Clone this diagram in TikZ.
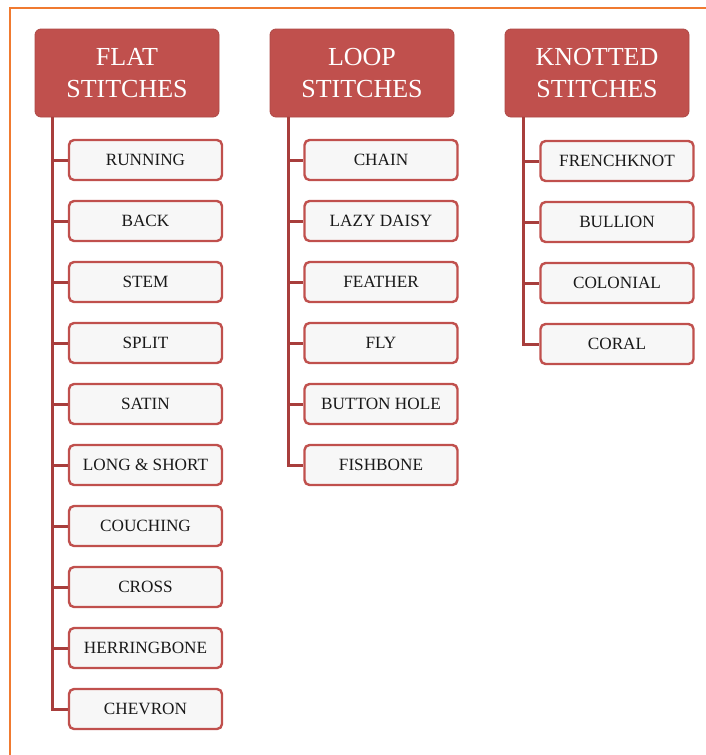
\documentclass[tikz,border=0pt]{standalone}
\usepackage{fontspec}
\setmainfont{Liberation Serif}
\usetikzlibrary{positioning}

\definecolor{headred}{RGB}{192,80,77}
\definecolor{trunkred}{RGB}{168,62,60}
\definecolor{frameorange}{RGB}{240,122,48}

\begin{document}
\begin{tikzpicture}[x=0.5pt, y=-0.5pt, node distance=9.3pt,
  head/.style={fill=headred, draw=headred!90!black, rounded corners=3pt,
               minimum width=92pt, minimum height=44pt, align=center,
               text=white, font=\fontsize{13}{16}\selectfont},
  item/.style={draw=headred, fill=black!3, line width=1.2pt, rounded corners=2.5pt,
               minimum width=76.5pt, minimum height=20pt, inner sep=1pt,
               text=black!90, font=\fontsize{8.6}{10}\selectfont},
  trunk/.style={draw=trunkred, line width=1.5pt}]

  \useasboundingbox (0,0) rectangle (706,755);
  \draw[frameorange, line width=1pt] (9.5,755) |- (706,7.5);

  % headers
  \node[head] (flat) at (127,73) {FLAT\\STITCHES};
  \node[head] (loop) at (362,73) {LOOP\\STITCHES};
  \node[head] (knot) at (597,73) {KNOTTED\\STITCHES};

  % flat stitches
  \node[item] (running) at (145.5,160) {RUNNING};
  \node[item, below=of running]  (back)   {BACK};
  \node[item, below=of back]     (stem)   {STEM};
  \node[item, below=of stem]     (split)  {SPLIT};
  \node[item, below=of split]    (satin)  {SATIN};
  \node[item, below=of satin]    (long)   {LONG \& SHORT};
  \node[item, below=of long]     (couch)  {COUCHING};
  \node[item, below=of couch]    (cross)  {CROSS};
  \node[item, below=of cross]    (herring) {HERRINGBONE};
  \node[item, below=of herring]  (chevron) {CHEVRON};

  % loop stitches
  \node[item] (chain) at (381,160) {CHAIN};
  \node[item, below=of chain]    (lazy)    {LAZY DAISY};
  \node[item, below=of lazy]     (feather) {FEATHER};
  \node[item, below=of feather]  (fly)     {FLY};
  \node[item, below=of fly]      (button)  {BUTTON HOLE};
  \node[item, below=of button]   (fish)    {FISHBONE};

  % knotted stitches
  \node[item] (french) at (617,161) {FRENCHKNOT};
  \node[item, below=of french]   (bullion)  {BULLION};
  \node[item, below=of bullion]  (colonial) {COLONIAL};
  \node[item, below=of colonial] (coral)    {CORAL};

  % trunks
  \coordinate (ft) at (52,117);
  \coordinate (lt) at (288,117);
  \coordinate (kt) at (523,117);

  \draw[trunk] (ft) |- (chevron.west);
  \foreach \n in {running,back,stem,split,satin,long,couch,cross,herring}
    \draw[trunk] (ft |- \n.west) -- (\n.west);

  \draw[trunk] (lt) |- (fish.west);
  \foreach \n in {chain,lazy,feather,fly,button}
    \draw[trunk] (lt |- \n.west) -- (\n.west);

  \draw[trunk] (kt) |- (coral.west);
  \foreach \n in {french,bullion,colonial}
    \draw[trunk] (kt |- \n.west) -- (\n.west);
\end{tikzpicture}
\end{document}
